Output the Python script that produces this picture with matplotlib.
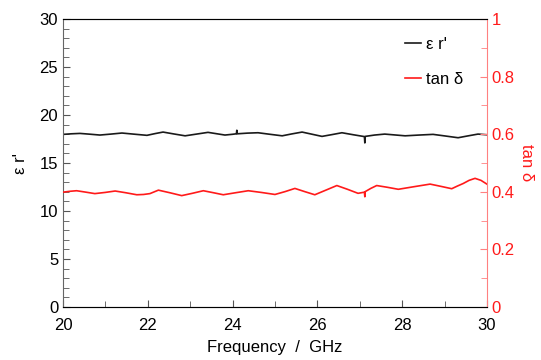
import matplotlib.pyplot as plt
from matplotlib.ticker import MultipleLocator, FuncFormatter

plt.rcParams['font.family'] = ['Liberation Sans', 'DejaVu Sans']

# epsilon r' (left axis)
freq_eps = [20.0, 20.20, 20.40, 20.63, 20.87, 21.13, 21.39, 21.68, 21.98, 22.17, 22.36, 22.62,
            22.88, 23.15, 23.42, 23.62, 23.82, 24.0, 24.09, 24.10, 24.11, 24.35,
            24.60, 24.88, 25.17, 25.40, 25.64, 25.88, 26.11, 26.35, 26.58, 26.85, 27.11, 27.12,
            27.13, 27.35, 27.59, 27.83, 28.07, 28.40, 28.73, 29.02, 29.32, 29.55, 29.79, 30.0]
eps_r = [17.99, 18.05, 18.09, 18.01, 17.92, 18.02, 18.13, 18.01, 17.89, 18.07, 18.23, 18.03,
         17.84, 18.02, 18.20, 18.06, 17.92, 18.00, 18.05, 18.42, 18.05, 18.12,
         18.16, 18.00, 17.84, 18.04, 18.23, 18.00, 17.78, 17.97, 18.16, 17.95, 17.76, 17.10,
         17.78, 17.92, 18.02, 17.93, 17.84, 17.92, 17.99, 17.82, 17.64, 17.83, 18.02, 17.95]

# tan delta (right axis)
freq_tan = [20.0, 20.16, 20.32, 20.54, 20.75, 20.99, 21.23, 21.48, 21.74, 21.90, 22.05, 22.25,
            22.52, 22.80, 23.05, 23.31, 23.55, 23.78, 24.07, 24.37, 24.68, 25.0, 25.24,
            25.47, 25.70, 25.94, 26.20, 26.46, 26.71, 26.96, 27.11, 27.12, 27.13, 27.26, 27.40,
            27.65, 27.91, 28.28, 28.66, 28.92, 29.17, 29.30, 29.44, 29.58, 29.72, 29.86, 30.0]
tan_d = [0.399, 0.402, 0.404, 0.399, 0.394, 0.398, 0.403, 0.397, 0.390, 0.391, 0.394, 0.406,
         0.397, 0.387, 0.395, 0.404, 0.397, 0.390, 0.397, 0.404, 0.398, 0.391, 0.401,
         0.412, 0.401, 0.390, 0.406, 0.422, 0.409, 0.395, 0.399, 0.383, 0.401, 0.412, 0.422,
         0.416, 0.409, 0.418, 0.427, 0.419, 0.411, 0.420, 0.429, 0.440, 0.447, 0.440, 0.427]

red = '#ff1a1a'

fig = plt.figure(figsize=(5.41, 3.6), dpi=100)
ax = fig.add_axes([0.1165, 0.147, 0.7835, 0.8])
ax2 = ax.twinx()

l1, = ax.plot(freq_eps, eps_r, color='#1a1a1a', lw=1.2, label="ε r'")
l2, = ax2.plot(freq_tan, tan_d, color=red, lw=1.2, label="tan δ")

ax.set_xlim(20, 30)
ax.set_ylim(0, 30)
ax2.set_ylim(0, 1)

ax.xaxis.set_major_locator(MultipleLocator(2))
ax.xaxis.set_minor_locator(MultipleLocator(1))
ax.yaxis.set_major_locator(MultipleLocator(5))
ax.yaxis.set_minor_locator(MultipleLocator(1))
ax2.yaxis.set_major_locator(MultipleLocator(0.2))
ax2.yaxis.set_minor_locator(MultipleLocator(0.1))
ax2.yaxis.set_major_formatter(FuncFormatter(lambda v, p: f"{v:g}"))

ax.tick_params(which='both', direction='in', color='#555555', labelsize=12)
ax.tick_params(which='major', length=5)
ax.tick_params(which='minor', length=4)
ax.tick_params(axis='x', pad=8)
ax2.tick_params(which='both', direction='in', color='#ff8080', labelcolor=red, labelsize=12)
ax2.tick_params(which='major', length=5)
ax2.tick_params(which='minor', length=4)

for s in ['left', 'bottom', 'top']:
    ax.spines[s].set_color('#666666')
ax2.spines['right'].set_color('#ff8080')
ax2.spines['left'].set_visible(False)
ax.spines['right'].set_visible(False)

ax.set_xlabel("Frequency  /  GHz", fontsize=12, labelpad=5)
ax.set_ylabel("ε r'", fontsize=12, labelpad=8)
ax2.set_ylabel("tan δ", fontsize=12, color=red, rotation=270, labelpad=14)

ax.legend(handles=[l1, l2], loc='upper right', bbox_to_anchor=(0.98, 0.99), frameon=False,
          fontsize=12, handlelength=1.0, handletextpad=0.3, labelspacing=1.2)

fig.savefig("out.png", dpi=100)
